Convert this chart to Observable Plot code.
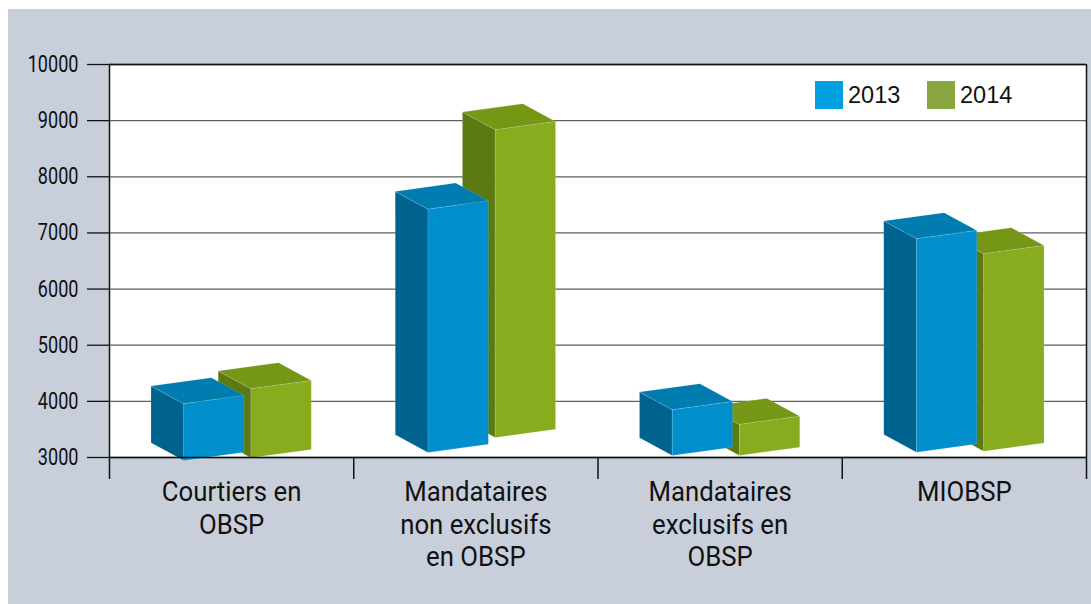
<!DOCTYPE html>
<html>
<head>
<meta charset="utf-8">
<script src="https://cdn.jsdelivr.net/npm/d3@7"></script>
<script src="https://cdn.jsdelivr.net/npm/@observablehq/plot@0.6"></script>
<style>
  html, body { margin: 0; padding: 0; background: #fff; width: 1091px; height: 604px; overflow: hidden; }
  #page { position: absolute; left: 0; top: 0; width: 1091px; height: 604px; }
  #bg { position: absolute; left: 8px; top: 9px; width: 1083px; height: 595px; background: #c8cfdb; }
  #chart { position: absolute; left: 0; top: 0; }
  #legend { position: absolute; left: 815px; top: 81px; height: 28px; display: flex; align-items: center;
            font: 23.5px "Liberation Sans", sans-serif; color: #111; }
  #legend i { display: block; width: 28px; height: 28px; margin-right: 5px; }
  #legend span { display: block; width: 79px; }
</style>
</head>
<body>
<div id="page">
  <div id="bg"></div>
  <div id="chart"></div>
  <div id="legend"></div>
</div>
<script>
const categories = ["Courtiers en\nOBSP", "Mandataires\nnon exclusifs\nen OBSP", "Mandataires\nexclusifs en\nOBSP", "MIOBSP"];
const years = ["2013", "2014"];
const values2013 = [3957, 7423, 3850, 6896];
const values2014 = [4224, 8837, 3588, 6628];
const bases2013 = [2947, 3090, 3036, 3094];
const bases2014 = [2995, 3356, 3036, 3112];
const yTicks = [3000, 4000, 5000, 6000, 7000, 8000, 9000, 10000];
const xTicks = [0, 1, 2, 3, 4];

const legendColors = ["#009fdf", "#8aa63f"];
const palette = {
  "2013": {front: "#008fcc", left: "#00628f", top: "#007cb0"},
  "2014": {front: "#88ac1e", left: "#5c7a12", top: "#769616"}
};
// oblique-projection shape of a bar, in scale units
const slot = {"2013": 0.304, "2014": 0.579};
const w = 0.247, dx = 0.134, dy = 317, skew = 148;

function faces(year, values, bases) {
  const c = palette[year];
  return categories.flatMap((_, i) => {
    const x = i + slot[year], v = values[i], b = bases[i];
    const poly = (face, pts) => pts.map(([px, py]) => ({id: `${i}-${year}-${face}`, group: i, px, py, fill: c[face]}));
    return [
      ...poly("left", [[x - dx, v + dy], [x, v], [x, b], [x - dx, b + dy], [x - dx, v + dy]]),
      ...poly("top", [[x - dx, v + dy], [x + w - dx, v + dy + skew], [x + w, v + skew], [x, v], [x - dx, v + dy]]),
      ...poly("front", [[x, v], [x + w, v + skew], [x + w, b + skew], [x, b], [x, v]])
    ];
  });
}

// the 2014 block stands behind the 2013 block
const polys = [...faces("2014", values2014, bases2014), ...faces("2013", values2013, bases2013)];

const font = 'Roboto, "Liberation Sans", sans-serif';

// condensed look of the reference lettering: narrow each label horizontally
const narrow = k => (index, scales, values, dimensions, context, next) => {
  const g = next(index, scales, values, dimensions, context);
  g.querySelectorAll("text").forEach(t => {
    t.setAttribute("transform", `${t.getAttribute("transform") || ""} scale(${k},1)`);
  });
  return g;
};

const plot = Plot.plot({
  width: 1091,
  height: 604,
  marginLeft: 109,
  marginRight: 5,
  marginTop: 64,
  marginBottom: 147,
  style: {background: "transparent", fontFamily: font, overflow: "visible"},
  x: {domain: [0, 4], axis: null},
  y: {domain: [3000, 10000], axis: null},
  marks: [
    Plot.frame({fill: "white", stroke: null}),
    Plot.ruleY(yTicks, {stroke: "#5f5f5f", strokeWidth: 1.3}),
    Plot.axisY({ticks: yTicks, tickSize: 22, tickPadding: 9, fontSize: 23.5, stroke: "#111", strokeWidth: 1.3, color: "#111", label: null, tickFormat: d => String(d), render: narrow(0.77)}),
    Plot.axisX({ticks: xTicks, tickSize: 22, tickFormat: () => "", stroke: "#111", strokeWidth: 1.5, label: null}),
    Plot.line(polys, {x: "px", y: "py", z: "id", fill: "fill", stroke: "#d9eef0", strokeWidth: 0.5, strokeOpacity: 0.3}),
    Plot.ruleX([0, 4], {stroke: "#111", strokeWidth: 1.5}),
    Plot.ruleY([10000, 3000], {stroke: "#111", strokeWidth: 1.5}),
    Plot.text(categories, {
      x: (d, i) => i + 0.5, y: () => 3000, text: d => d,
      dy: 20.5, lineAnchor: "top", textAnchor: "middle", fontSize: 28, lineHeight: 1.16, fill: "#111",
      render: narrow(0.92)
    })
  ]
});
document.getElementById("chart").append(plot);

const legend = document.getElementById("legend");
years.forEach((y, i) => {
  const sw = document.createElement("i");
  sw.style.background = legendColors[i];
  const t = document.createElement("span");
  t.textContent = y;
  legend.append(sw, t);
});
</script>
</body>
</html>
